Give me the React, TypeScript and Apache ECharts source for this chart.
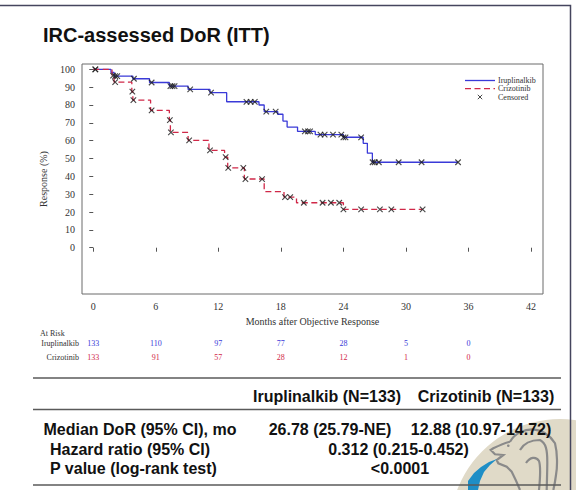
import React, { useEffect, useRef } from "react";
import * as echarts from "echarts";

// ---- axis ticks ----
const monthTicks = [0, 6, 12, 18, 24, 30, 36, 42];
const responseTicks = [0, 10, 20, 30, 40, 50, 60, 70, 80, 90, 100];

// ---- Iruplinalkib KM curve (event times in months, response % after each step) ----
const iruTimes = [0, 1.7, 2.0, 3.8, 5.4, 7.3, 9.1, 11.2, 12.8, 15.9, 16.4, 17.7, 18.2, 18.6, 19.6, 21.3, 24.0, 25.9, 26.3, 26.78];
const iruSurv = [100, 98.3, 96.2, 94.7, 92.6, 90.6, 88.7, 86.9, 81.8, 80.0, 76.3, 74.8, 71.0, 67.6, 65.2, 63.4, 61.9, 58.5, 53.0, 47.9];
const iruLastFollowUp = 35.0;
const iruCensored = [0.2, 2.1, 2.3, 3.9, 5.6, 7.4, 7.6, 7.8, 9.3, 11.3, 14.7, 15.1, 15.5, 16.6, 17.5, 20.3, 20.6, 20.8, 21.8, 22.2, 23.0, 23.8, 24.0, 24.2, 25.7, 26.8, 27.0, 27.4, 29.3, 31.5, 35.0];

// ---- Crizotinib KM curve ----
const crizoTimes = [0, 1.8, 2.0, 3.7, 3.8, 5.5, 7.3, 7.4, 9.1, 11.1, 12.6, 12.9, 14.5, 16.4, 18.3, 19.5, 24.0];
const crizoSurv = [100, 96.5, 92.8, 87.5, 82.7, 77.0, 71.5, 64.6, 60.2, 54.5, 50.8, 44.8, 38.5, 31.4, 28.3, 25.2, 21.5];
const crizoLastFollowUp = 31.6;
const crizoCensored = [0.2, 1.9, 2.1, 3.75, 3.85, 5.6, 7.35, 7.45, 9.2, 11.2, 12.7, 12.95, 14.4, 14.6, 16.2, 18.4, 18.9, 20.2, 22.0, 22.8, 23.6, 24.0, 25.7, 27.5, 28.6, 31.6];

// ---- number at risk ----
const atRiskMonths = [0, 6, 12, 18, 24, 30, 36];
const iruAtRisk = [133, 110, 97, 77, 28, 5, 0];
const crizoAtRisk = [133, 91, 57, 28, 12, 1, 0];

// ---- legend ----
const legendLabels = ["Iruplinalkib", "Crizotinib", "Censored"];

// ---- summary table ----
const tableHeader = ["Iruplinalkib (N=133)", "Crizotinib (N=133)"];
const medianRow = ["Median DoR (95% CI), mo", "26.78 (25.79-NE)", "12.88 (10.97-14.72)"];
const hazardRow = ["Hazard ratio (95% CI)", "0.312 (0.215-0.452)"];
const pValueRow = ["P value (log-rank test)", "<0.0001"];

const SERIF = "'Liberation Serif', 'DejaVu Serif', serif";
const SANS = "'Liberation Sans', Arial, sans-serif";
const BLUE = "#3a3ad8";
const RED = "#d02848";
const CROSS = "path://M0 0L10 10M10 0L0 10";

echarts.graphic.registerShape(
  "merlionOutline",
  echarts.graphic.extendPath(
    "M40 46.7C45 38 55 34 63 34.3C72 35 80 40 85 48.3C87.5 58 87.5 72 86 80C85 88 84 92 83.3 95" +
      "M40 46.7C35 48 28 51 23.3 53.3L20.7 55L25 59.3L33.3 60L26.7 65L28.3 68.3L36.7 71.7L41.7 76.7C46 85 48 90 50 95" +
      "M50 55C54 48 62 45 70 45C76 48 77.3 55 77.3 66.7C77.3 75 77 82 76.7 95" +
      "M56 68C60 62 66 61 69 66C71 72 70 85 69 95",
    {}
  )
);

function stepCurve(times: number[], surv: number[], last: number) {
  const pts = times.map((t, i) => [t, surv[i]]);
  pts.push([last, surv[surv.length - 1]]);
  return pts;
}

function survivalAt(times: number[], surv: number[], t: number) {
  let s = surv[0];
  for (let i = 0; i < times.length; i++) if (times[i] <= t) s = surv[i];
  return s;
}

function txt(text: string, x: number, y: number, font: string, fill: string, align = "left") {
  return {
    type: "text",
    x,
    y,
    z: 20,
    style: { text, font, fill, textAlign: align, verticalAlign: "middle" },
  };
}

export default function App() {
  const ref = useRef<HTMLDivElement>(null);

  useEffect(() => {
    if (!ref.current) return;
    const chart = echarts.init(ref.current, null, { renderer: "svg" });

    chart.setOption({
      animation: false,
      backgroundColor: "#ffffff",
      grid: {
        left: 82,
        top: 64,
        width: 461,
        height: 230,
        show: true,
        borderColor: "#6a6a6a",
        borderWidth: 1,
        backgroundColor: "transparent",
      },
      xAxis: {
        type: "value",
        min: -1.08,
        max: 43.15,
        name: "Months after Objective Response",
        nameLocation: "middle",
        nameGap: 22,
        nameTextStyle: { fontFamily: SERIF, fontSize: 10, color: "#333" },
        axisLine: { show: false },
        axisTick: { show: true, length: 4, customValues: monthTicks, lineStyle: { color: "#555" } },
        axisLabel: { customValues: monthTicks, fontFamily: SERIF, fontSize: 10, color: "#333", margin: 7 },
        splitLine: { show: false },
      },
      yAxis: {
        type: "value",
        min: -25.95,
        max: 102.97,
        name: "Response (%)",
        nameLocation: "middle",
        nameGap: 34,
        nameTextStyle: { fontFamily: SERIF, fontSize: 10, color: "#333" },
        axisLine: { show: false },
        axisTick: { show: true, length: 4, customValues: responseTicks, lineStyle: { color: "#555" } },
        axisLabel: { customValues: responseTicks, fontFamily: SERIF, fontSize: 10, color: "#333", margin: 7 },
        splitLine: { show: false },
      },
      series: [
        {
          name: legendLabels[0],
          type: "line",
          step: "end",
          symbol: "none",
          data: stepCurve(iruTimes, iruSurv, iruLastFollowUp),
          lineStyle: { color: BLUE, width: 1.3 },
          itemStyle: { color: BLUE },
          z: 3,
        },
        {
          name: legendLabels[1],
          type: "line",
          step: "end",
          symbol: "none",
          data: stepCurve(crizoTimes, crizoSurv, crizoLastFollowUp),
          lineStyle: { color: RED, width: 1.3, type: [6, 3.5] },
          itemStyle: { color: RED },
          z: 3,
        },
        {
          name: legendLabels[2],
          type: "scatter",
          symbol: CROSS,
          symbolSize: 5.5,
          data: iruCensored.map((t) => [t, survivalAt(iruTimes, iruSurv, t)]),
          itemStyle: { color: "none", borderColor: "#1a1a1a", borderWidth: 1.1 },
          z: 4,
        },
        {
          name: legendLabels[2],
          type: "scatter",
          symbol: CROSS,
          symbolSize: 5.5,
          data: crizoCensored.map((t) => [t, survivalAt(crizoTimes, crizoSurv, t)]),
          itemStyle: { color: "none", borderColor: "#1a1a1a", borderWidth: 1.1 },
          z: 4,
        },
      ],
    });

    const px = (m: number) => chart.convertToPixel({ xAxisIndex: 0 }, m) as number;
    const riskFont = `8px ${SERIF}`;
    const boldFont = `bold 16px ${SANS}`;
    const legendFont = `8px ${SERIF}`;

    const graphic: any[] = [
      // watermark behind the summary table
      { type: "circle", z: 0, shape: { cx: 560, cy: 529, r: 110 }, style: { fill: "#e0dac8" } },
      {
        type: "merlionOutline",
        z: 1,
        x: 470,
        y: 395,
        style: { fill: "none", stroke: "#8a8a8a", lineWidth: 2.2 },
      },
      { type: "circle", z: 1, shape: { cx: 508.3, cy: 445.7, r: 1.3 }, style: { fill: "#8a8a8a" } },
      {
        type: "polygon",
        z: 1,
        shape: {
          points: [[468, 481], [474, 473], [481, 467], [489, 462], [497, 459], [490, 465], [484, 472], [480, 481], [478, 490], [468, 490]],
        },
        style: { fill: "#1e8ec6" },
      },
      // slide frame
      {
        type: "polyline",
        z: 5,
        shape: { points: [[0, 5.5], [570.5, 5.5], [570.5, 490]] },
        style: { stroke: "#45455e", lineWidth: 1.5, fill: "none" },
      },
      txt("IRC-assessed DoR (ITT)", 43, 35, `bold 20px ${SANS}`, "#111"),
      // legend inside the plot
      { type: "line", z: 20, shape: { x1: 465, y1: 80.5, x2: 495, y2: 80.5 }, style: { stroke: BLUE, lineWidth: 1.3 } },
      { type: "line", z: 20, shape: { x1: 465, y1: 88.7, x2: 495, y2: 88.7 }, style: { stroke: RED, lineWidth: 1.3, lineDash: [6, 3.5] } },
      { type: "line", z: 20, shape: { x1: 477.8, y1: 94.8, x2: 482.2, y2: 99.2 }, style: { stroke: "#333", lineWidth: 0.9 } },
      { type: "line", z: 20, shape: { x1: 482.2, y1: 94.8, x2: 477.8, y2: 99.2 }, style: { stroke: "#333", lineWidth: 0.9 } },
      txt(legendLabels[0], 498, 80.5, legendFont, "#333"),
      txt(legendLabels[1], 498, 88.7, legendFont, "#333"),
      txt(legendLabels[2], 498, 97, legendFont, "#333"),
      // number at risk
      txt("At Risk", 40, 333, riskFont, "#333"),
      txt(legendLabels[0], 79, 343, riskFont, "#333", "right"),
      txt(legendLabels[1], 79, 357.5, riskFont, "#333", "right"),
      ...atRiskMonths.map((m, i) => txt(String(iruAtRisk[i]), px(m), 343, riskFont, BLUE, "center")),
      ...atRiskMonths.map((m, i) => txt(String(crizoAtRisk[i]), px(m), 357.5, riskFont, RED, "center")),
      // summary table rules
      { type: "line", z: 10, shape: { x1: 33, y1: 378, x2: 561, y2: 378 }, style: { stroke: "#5a5a5a", lineWidth: 1.5 } },
      { type: "line", z: 10, shape: { x1: 33, y1: 409.5, x2: 561, y2: 409.5 }, style: { stroke: "#5a5a5a", lineWidth: 1.5 } },
      { type: "line", z: 10, shape: { x1: 33, y1: 485, x2: 561, y2: 485 }, style: { stroke: "#5a5a5a", lineWidth: 1.5 } },
      txt(tableHeader[0], 327, 396.5, boldFont, "#111", "center"),
      txt(tableHeader[1], 486, 396.5, boldFont, "#111", "center"),
      txt(medianRow[0], 43.5, 429, boldFont, "#111"),
      txt(medianRow[1], 330, 429, boldFont, "#111", "center"),
      txt(medianRow[2], 481, 429, boldFont, "#111", "center"),
      txt(hazardRow[0], 50, 449, boldFont, "#111"),
      txt(hazardRow[1], 398.5, 449, boldFont, "#111", "center"),
      txt(pValueRow[0], 50, 468.5, boldFont, "#111"),
      txt(pValueRow[1], 400, 468.5, boldFont, "#111", "center"),
    ];

    chart.setOption({ graphic });

    return () => chart.dispose();
  }, []);

  return (
    <div
      ref={ref}
      style={{ position: "fixed", left: 0, top: 0, width: 576, height: 490, background: "#fff" }}
    />
  );
}
